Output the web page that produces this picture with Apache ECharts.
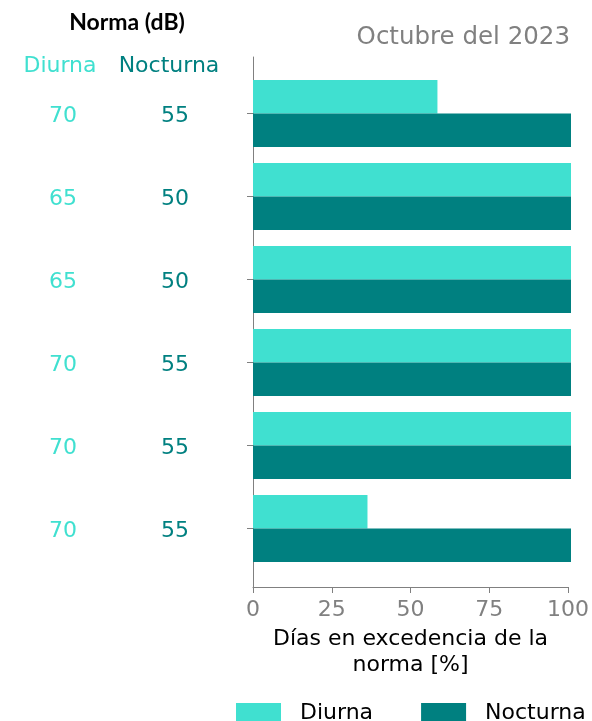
<!DOCTYPE html>
<html>
<head>
<meta charset="utf-8">
<script src="https://cdn.jsdelivr.net/npm/echarts@6/dist/echarts.min.js"></script>
<style>
  html, body { margin: 0; padding: 0; background: #fff; }
  #chart { width: 592px; height: 721px; }
</style>
</head>
<body>
<div id="chart"></div>
<script>
// datos
const estaciones = ['E1', 'E2', 'E3', 'E4', 'E5', 'E6'];
const normaDiurna = [70, 65, 65, 70, 70, 70];
const normaNocturna = [55, 50, 50, 55, 55, 55];
const excedenciaDiurna = [58, 100, 100, 100, 100, 36];
const excedenciaNocturna = [100, 100, 100, 100, 100, 100];
const xTicks = [0, 25, 50, 75, 100];

const colorDiurna = '#40E0D0';
const colorNocturna = '#008080';
const gris = '#808080';
const fuente = 'DejaVu Sans';

const chart = echarts.init(document.getElementById('chart'));

chart.setOption({
  animation: false,
  textStyle: { fontFamily: fuente },
  graphic: [
    { type: 'text', x: 127, y: 23, style: { text: 'Norma (dB)', font: 'bold 23px Lato', fill: '#000', align: 'center', verticalAlign: 'middle' } },
    { type: 'text', x: 60, y: 66, style: { text: 'Diurna', font: '22px "DejaVu Sans"', fill: colorDiurna, align: 'center', verticalAlign: 'middle' } },
    { type: 'text', x: 169, y: 66, style: { text: 'Nocturna', font: '22px "DejaVu Sans"', fill: colorNocturna, align: 'center', verticalAlign: 'middle' } },
    { type: 'text', x: 570, y: 38, style: { text: 'Octubre del 2023', font: '24.5px "DejaVu Sans"', fill: gris, align: 'right', verticalAlign: 'middle' } }
  ],
  legend: {
    left: 236,
    top: 702,
    padding: 0,
    itemWidth: 45,
    itemHeight: 20,
    itemGap: 48,
    icon: 'rect',
    textStyle: { fontSize: 22, color: '#000', fontFamily: fuente, padding: [0, 0, 0, 14] },
    data: ['Diurna', 'Nocturna']
  },
  grid: [
    { left: 253, right: 21, top: 57, bottom: 134 },
    { left: 253, right: 21, top: 72, height: 498 }
  ],
  xAxis: [
    {
      gridIndex: 0,
      type: 'value',
      min: xTicks[0],
      max: xTicks[xTicks.length - 1],
      interval: 25,
      axisLine: { show: true, lineStyle: { color: gris, width: 1 } },
      axisTick: { show: true, length: 6, lineStyle: { color: gris } },
      splitLine: { show: false },
      axisLabel: { color: gris, fontSize: 22, margin: 12, fontFamily: fuente },
      name: 'Días en excedencia de la\nnorma [%]',
      nameLocation: 'middle',
      nameGap: 38,
      nameTextStyle: { color: '#000', fontSize: 22, lineHeight: 26, fontFamily: fuente }
    },
    { gridIndex: 1, type: 'value', min: 0, max: 100, show: false }
  ],
  yAxis: [
    {
      gridIndex: 0,
      type: 'value',
      min: 0, max: 1,
      axisLine: { show: true, lineStyle: { color: gris, width: 1 } },
      axisTick: { show: false },
      axisLabel: { show: false },
      splitLine: { show: false }
    },
    {
      gridIndex: 1,
      type: 'category',
      inverse: true,
      data: estaciones,
      axisLine: { show: false },
      axisTick: { show: true, alignWithLabel: true, length: 6, lineStyle: { color: gris } },
      axisLabel: {
        margin: 14,
        padding: [6, 0, 0, 0],
        formatter: (v, i) => `{a|${normaDiurna[i]}}{b|${normaNocturna[i]}}`,
        rich: {
          a: { width: 96, align: 'center', color: colorDiurna, fontSize: 22, fontFamily: fuente },
          b: { width: 128, align: 'center', color: colorNocturna, fontSize: 22, fontFamily: fuente }
        }
      }
    }
  ],
  series: [
    {
      name: 'Diurna',
      type: 'bar',
      xAxisIndex: 1,
      yAxisIndex: 1,
      data: excedenciaDiurna,
      barWidth: 33.5,
      barGap: '0%',
      itemStyle: { color: colorDiurna }
    },
    {
      name: 'Nocturna',
      type: 'bar',
      xAxisIndex: 1,
      yAxisIndex: 1,
      data: excedenciaNocturna,
      barWidth: 33.5,
      barGap: '0%',
      itemStyle: { color: colorNocturna }
    }
  ]
});
</script>
</body>
</html>
